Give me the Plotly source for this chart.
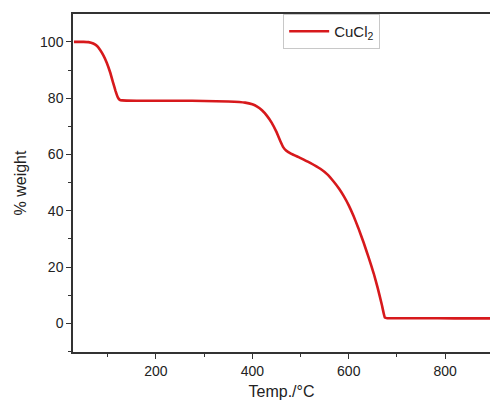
import plotly.graph_objects as go

# TGA curve for CuCl2: temperature (°C) vs remaining mass (%)
temp_c = [30, 50, 60, 70, 78, 84, 91, 98, 105, 111, 116, 121, 125, 130, 160, 250,
          300, 350, 385, 400, 410, 420, 430, 440, 450, 458, 464, 470, 480, 499,
          520, 541, 555, 569, 580, 590, 600, 610, 620, 631, 641, 652, 660, 669,
          675, 680, 700, 750, 820, 893]
weight_pct = [100, 100, 99.9, 99.4, 98.5, 97.2, 95.2, 92.6, 89.2, 85.6, 82.7, 80.3, 79.4, 79.2, 79.1, 79.1,
              79.0, 78.8, 78.4, 77.8, 77.0, 75.7, 73.8, 71.3, 68.0, 64.8, 62.6, 61.4, 60.3, 58.8,
              57.0, 54.9, 53.0, 50.3, 47.8, 45.1, 41.9, 38.1, 33.8, 28.6, 23.5, 17.6, 12.6, 6.3,
              2.0, 1.8, 1.8, 1.8, 1.75, 1.75]

fig = go.Figure()
fig.add_trace(go.Scatter(
    x=temp_c, y=weight_pct, mode="lines", name="CuCl<sub>2</sub>",
    line=dict(color="#d7191c", width=2.6, shape="spline", smoothing=0.35),
))

axis_font = dict(family="Liberation Sans, Arial, sans-serif", size=14, color="#222")

fig.update_layout(
    width=490, height=406,
    margin=dict(l=73, r=0, t=14, b=54),
    paper_bgcolor="white", plot_bgcolor="white",
    font=axis_font,
    showlegend=True,
    legend=dict(
        x=0.504, y=1.0, xanchor="left", yanchor="top",
        bgcolor="white", bordercolor="#c8c8c8", borderwidth=1,
        font=dict(family="Liberation Sans, Arial, sans-serif", size=15, color="#222"),
        itemwidth=40,
    ),
    xaxis=dict(
        range=[28, 893], tickvals=[200, 400, 600, 800],
        showgrid=False, zeroline=False,
        showline=True, linecolor="#333", linewidth=1.5, mirror=True,
        ticks="outside", ticklen=5, tickwidth=1.2, tickcolor="#333",
        minor=dict(tickvals=[100, 300, 500, 700], ticks="outside", ticklen=3,
                   tickwidth=1.2, tickcolor="#333"),
        title=dict(text="Temp./°C", font=dict(size=16), standoff=8),
    ),
    yaxis=dict(
        range=[-10.2, 109.9], tickvals=[0, 20, 40, 60, 80, 100],
        showgrid=False, zeroline=False,
        showline=True, linecolor="#333", linewidth=1.5,
        ticks="outside", ticklen=5, tickwidth=1.2, tickcolor="#333",
        minor=dict(tickvals=[-10, 10, 30, 50, 70, 90], ticks="outside", ticklen=3,
                   tickwidth=1.2, tickcolor="#333"),
        title=dict(text="% weight", font=dict(size=16), standoff=9),
    ),
)

fig.write_html("out.html")
